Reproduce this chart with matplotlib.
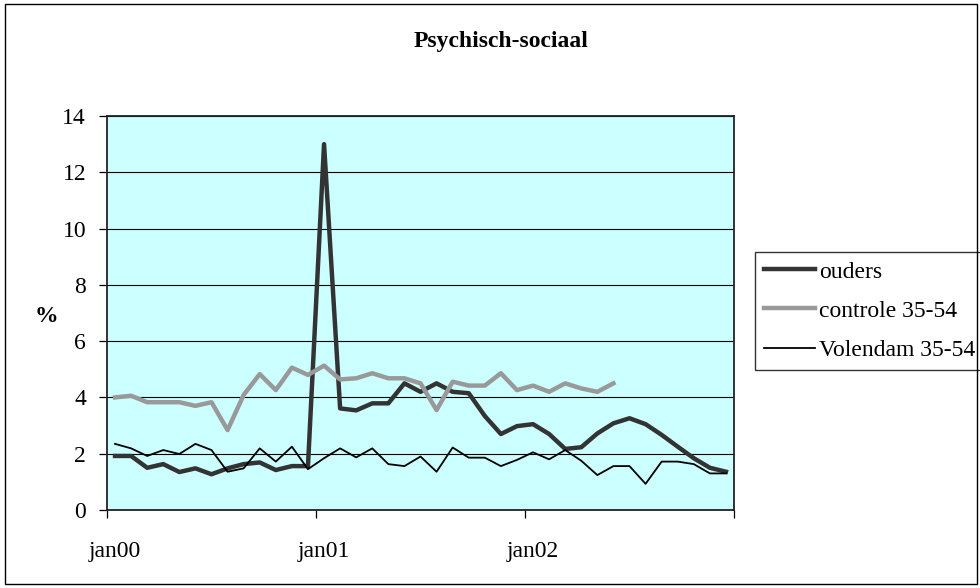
import numpy as np
import matplotlib
matplotlib.use("Agg")
import matplotlib.pyplot as plt
from matplotlib.patches import Rectangle

title = "Psychisch-sociaal"
series_names = ["ouders", "controle 35-54", "Volendam 35-54"]
tick_labels = ["jan00", "jan01", "jan02"]
periods_per_year = 13

ouders = [1.92, 1.92, 1.50, 1.63, 1.35, 1.48, 1.27, 1.48, 1.63, 1.69, 1.42, 1.56, 1.56,
          13.0, 3.61, 3.54, 3.79, 3.79, 4.50, 4.20, 4.50, 4.20, 4.15, 3.34, 2.70, 2.98,
          3.05, 2.70, 2.17, 2.23, 2.72, 3.08, 3.26, 3.05, 2.67, 2.25, 1.84, 1.50, 1.36]
controle = [4.00, 4.06, 3.83, 3.83, 3.83, 3.70, 3.83, 2.84, 4.09, 4.83, 4.26, 5.06, 4.80,
            5.13, 4.64, 4.68, 4.86, 4.68, 4.68, 4.50, 3.55, 4.56, 4.42, 4.42, 4.86, 4.26,
            4.42, 4.20, 4.50, 4.32, 4.20, 4.50]
volendam = [2.35, 2.19, 1.92, 2.13, 1.99, 2.35, 2.13, 1.36, 1.48, 2.19, 1.72, 2.25, 1.45,
            1.84, 2.19, 1.87, 2.19, 1.63, 1.56, 1.90, 1.36, 2.22, 1.86, 1.86, 1.56, 1.78,
            2.05, 1.80, 2.13, 1.75, 1.24, 1.56, 1.56, 0.93, 1.72, 1.72, 1.63, 1.30, 1.30]

plt.rcParams['font.family'] = ['Liberation Serif', 'DejaVu Serif']
FS = 17

W, H = 980, 588
fig = plt.figure(figsize=(W / 100, H / 100), dpi=100)
fig.patch.set_facecolor("white")

# outer chart border
fig.add_artist(Rectangle((5 / W, 4 / H), 972 / W, 580 / H, transform=fig.transFigure,
                         fill=False, edgecolor="black", linewidth=1.0))

ax = fig.add_axes([107 / W, 1 - 510 / H, (734 - 107) / W, (510 - 116) / H])
ax.set_facecolor("#CCFFFF")

n = len(ouders)
ax.plot(np.arange(len(ouders)), ouders, color="#333333", linewidth=3.2,
        solid_joinstyle="round", label=series_names[0], zorder=3)
ax.plot(np.arange(len(controle)), controle, color="#999999", linewidth=3.2,
        solid_joinstyle="round", label=series_names[1], zorder=3)
ax.plot(np.arange(len(volendam)), volendam, color="black", linewidth=1.3,
        label=series_names[2], zorder=4)

ax.set_xlim(-0.5, n - 0.5)
ax.set_ylim(0, 14)
ax.set_yticks(np.arange(0, 15, 2))
ax.yaxis.grid(True, color="black", linewidth=0.8)
ax.set_axisbelow(True)

major = np.arange(-0.5, n, periods_per_year)
ax.set_xticks(major)
ax.set_xticklabels([""] * len(major))
ax.set_xticks(np.arange(0, n, periods_per_year)[:len(tick_labels)], minor=True)
ax.set_xticklabels(tick_labels, minor=True)
ax.tick_params(axis="x", which="minor", length=0, pad=22, labelsize=FS)
ax.tick_params(axis="x", which="major", length=6, width=0.9, direction="out")
ax.tick_params(axis="y", length=6, width=0.9, direction="out", pad=9, labelsize=FS)

for s in ax.spines.values():
    s.set_linewidth(1.3)
    s.set_color("#222222")

fig.text(46 / W, 1 - 316 / H, "%", fontsize=FS, fontweight="bold", ha="center", va="center")
fig.text(501 / W, 1 - 42 / H, title, fontsize=FS, fontweight="bold", ha="center", va="center")

leg = ax.legend(loc="upper left", bbox_to_anchor=(755 / W, 1 - 252 / H),
                bbox_transform=fig.transFigure, borderaxespad=0, fontsize=FS,
                frameon=True, fancybox=False, handlelength=2.15, handletextpad=0.2,
                labelspacing=0.75, borderpad=0.38)
leg.get_frame().set_edgecolor("black")
leg.get_frame().set_linewidth(1.0)

fig.savefig("out.png", dpi=100)
